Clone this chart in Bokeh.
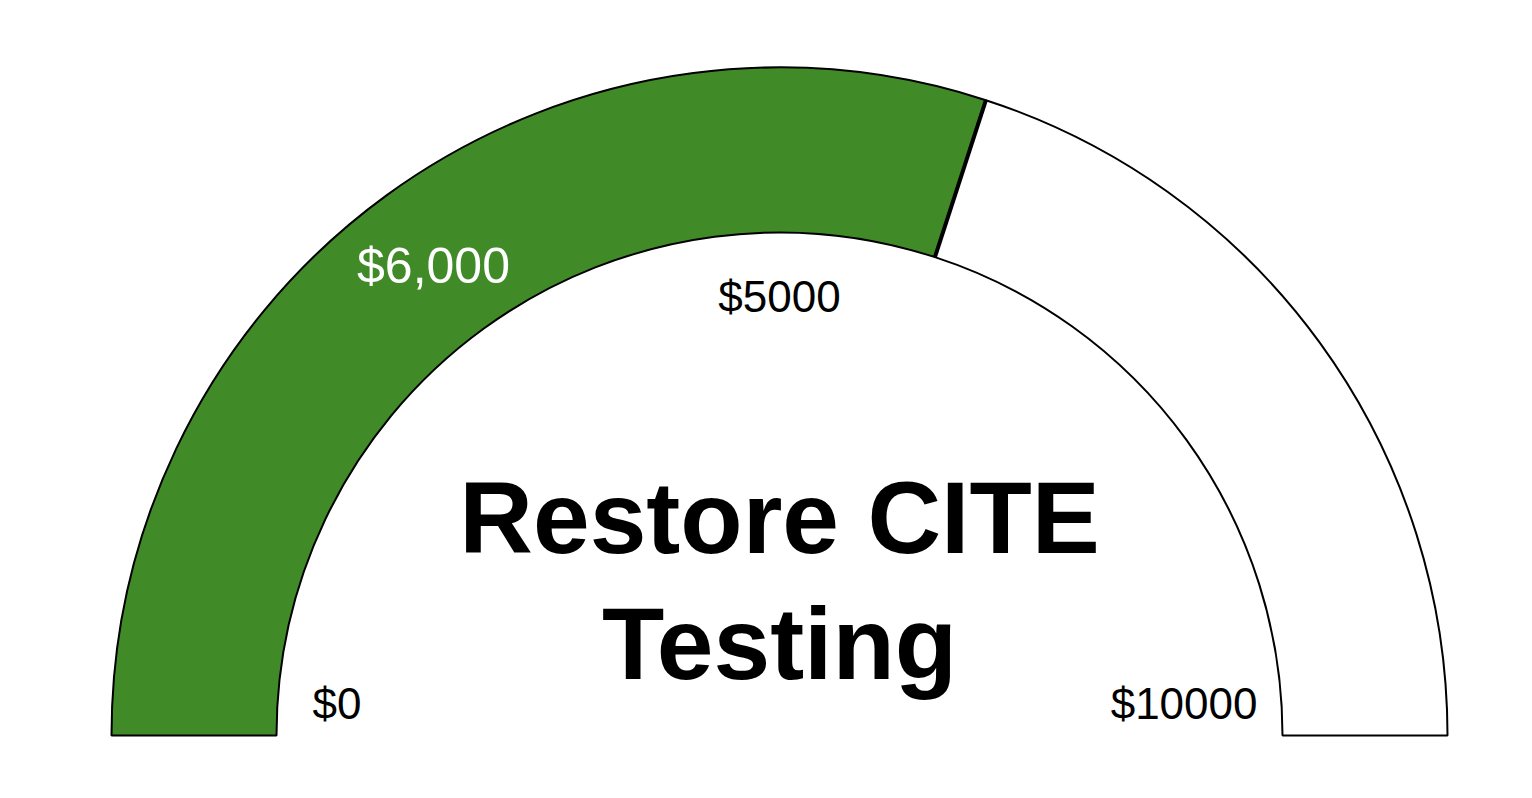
import math
from bokeh.plotting import figure
from bokeh.models import ColumnDataSource, Label
from bokeh.embed import file_html
from bokeh.resources import INLINE

# Data
gauge_min = 0
gauge_max = 10000
gauge_value = 6000
value_label = "$6,000"
tick_labels = ["$0", "$5000", "$10000"]
title_lines = ["Restore CITE", "Testing"]

W, H = 1532, 798
p = figure(width=W, height=H, x_range=(0, W), y_range=(0, H),
           output_backend="svg", toolbar_location=None, min_border=0)
p.axis.visible = False
p.grid.visible = False
p.outline_line_color = None
p.background_fill_color = "white"
p.border_fill_color = "white"

cx, cy = 779, H - 735
r_out, r_in = 668, 503

frac = (gauge_value - gauge_min) / (gauge_max - gauge_min)
split = math.pi * (1 - frac)

src = ColumnDataSource(dict(
    x=[cx, cx], y=[cy, cy],
    start=[split, 0.0], end=[math.pi, split],
    color=["#408A28", "#FFFFFF"],
))
p.annular_wedge(x="x", y="y", inner_radius=r_in, outer_radius=r_out,
                start_angle="start", end_angle="end", fill_color="color",
                line_color="black", line_width=2, source=src)

p.segment(x0=[cx + r_in * math.cos(split)], y0=[cy + r_in * math.sin(split)],
          x1=[cx + r_out * math.cos(split)], y1=[cy + r_out * math.sin(split)],
          line_color="black", line_width=4)


def label(x, y, txt, size, color="black", align="center", style="normal"):
    p.add_layout(Label(x=x, y=y, text=txt, text_font="Liberation Sans",
                       text_font_size=size, text_color=color,
                       text_align=align, text_baseline="middle",
                       text_font_style=style))


label(433, H - 265, value_label, "50px", color="white")
label(cx - 467, H - 703, tick_labels[0], "44px", align="left")
label(cx, H - 296, tick_labels[1], "44px")
label(cx + 478, H - 703, tick_labels[2], "44px", align="right")
label(cx, H - 517, title_lines[0], "102px", style="bold")
label(cx, H - 643, title_lines[1], "102px", style="bold")

open("out.html", "w").write(file_html(p, INLINE))
